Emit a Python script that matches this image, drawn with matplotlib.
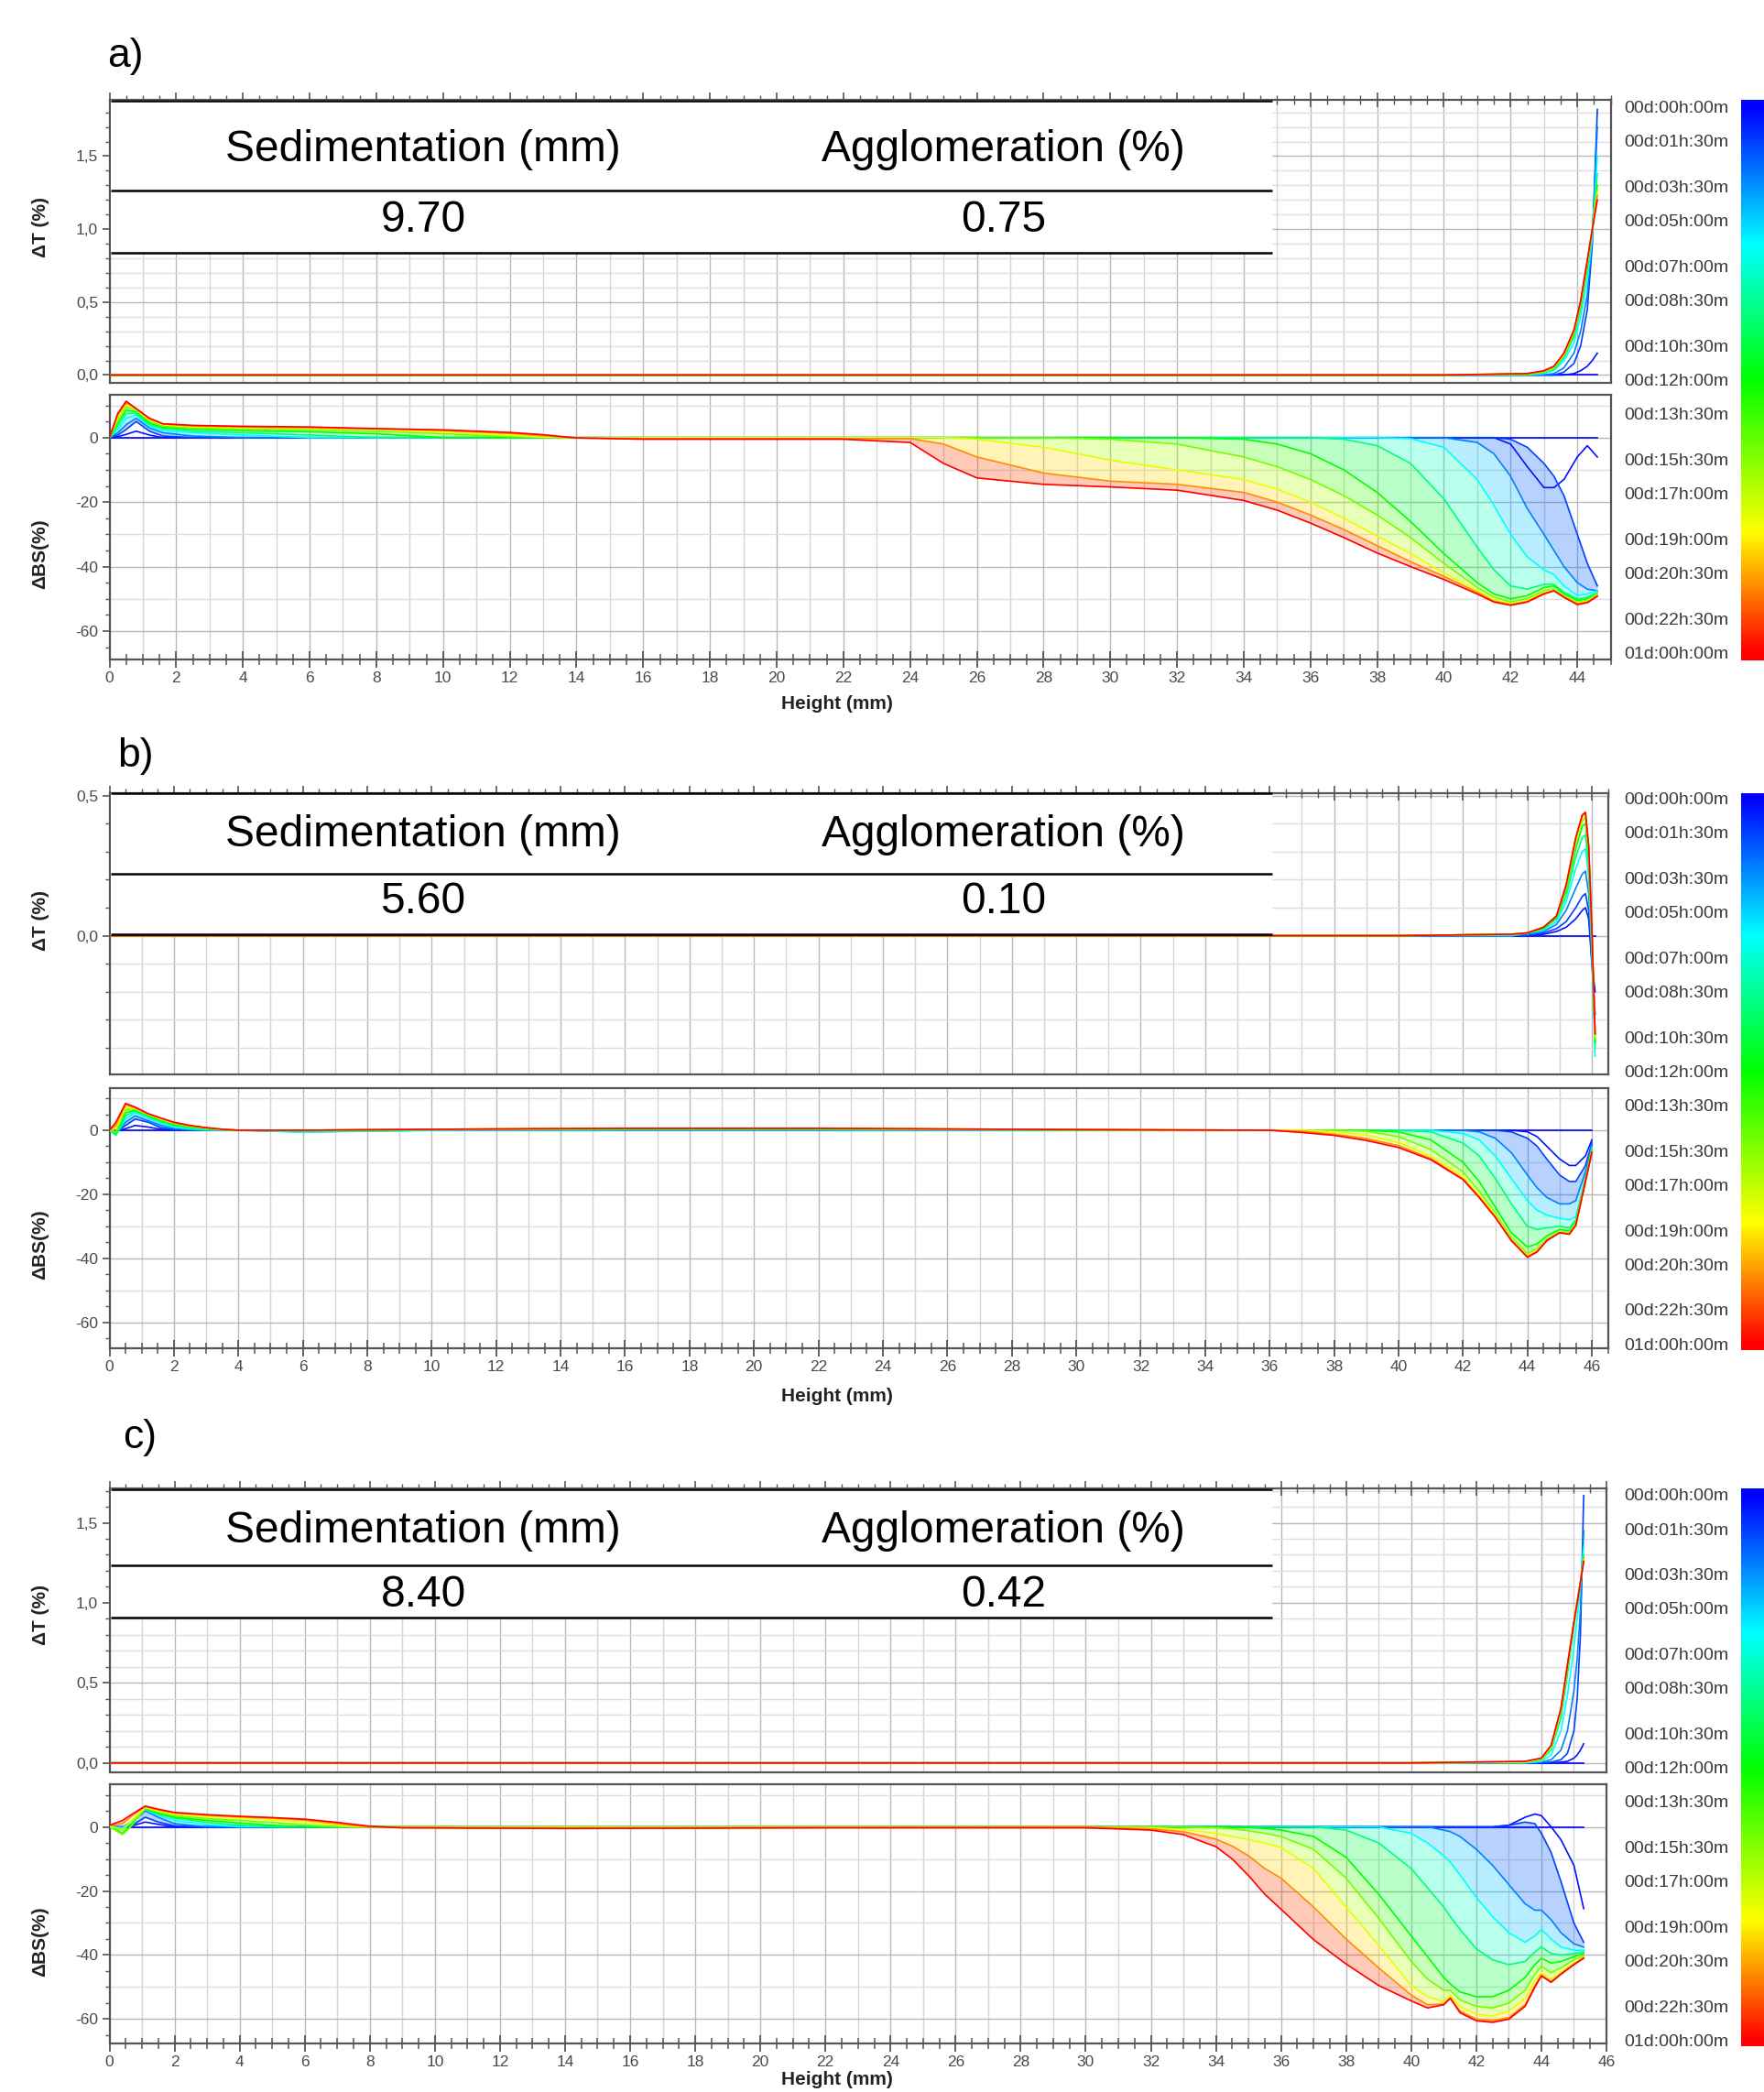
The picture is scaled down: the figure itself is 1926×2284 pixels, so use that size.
import numpy as np
import matplotlib.pyplot as plt
from matplotlib.colors import LinearSegmentedColormap
from matplotlib.ticker import MultipleLocator, FuncFormatter

plt.rcParams['font.family'] = ['Liberation Sans', 'DejaVu Sans']

# scan times drawn (hours)
times = [0, 0.5, 1.5, 3, 6, 9, 12, 15, 18, 21, 24]

legend_hours = [0, 1.5, 3.5, 5, 7, 8.5, 10.5, 12, 13.5, 15.5, 17, 19, 20.5, 22.5, 24]
legend_text = ['00d:00h:00m', '00d:01h:30m', '00d:03h:30m', '00d:05h:00m', '00d:07h:00m',
               '00d:08h:30m', '00d:10h:30m', '00d:12h:00m', '00d:13h:30m', '00d:15h:30m',
               '00d:17h:00m', '00d:19h:00m', '00d:20h:30m', '00d:22h:30m', '01d:00h:00m']

panel_names = ['a)', 'b)', 'c)']
sedimentation = ['9.70', '5.60', '8.40']
agglomeration = ['0.75', '0.10', '0.42']

# ---------------- sample a ----------------
h_a_left = [0, 0.25, 0.5, 0.8, 1.2, 1.6, 2.5, 4, 6, 8, 10, 12, 13, 14, 16, 22]
bs_a_left = [
    [0, 0, 0, 0, 0, 0, 0, 0, 0, 0, 0, 0, 0, 0, 0, 0],
    [0, 0.3, 1, 2, 0.8, 0, 0, 0, 0, 0, 0, 0, 0, 0, 0, 0],
    [0, 0.8, 2.5, 5, 2, 0.5, 0, 0, 0, 0, 0, 0, 0, 0, 0, 0],
    [0, 1.5, 4, 6, 3, 1.5, 0.5, 0, 0, 0, 0, 0, 0, 0, 0, 0],
    [0, 2.5, 6, 7, 3.5, 2.2, 1.5, 0.8, 0, 0, 0, 0, 0, 0, 0, 0],
    [0, 3.5, 7.5, 7.5, 4, 2.8, 2, 1.5, 0.8, 0, 0, 0, 0, 0, 0, 0],
    [0, 4.5, 8.5, 8, 4.5, 3.2, 2.6, 2.2, 1.8, 1.2, 0, 0, 0, 0, 0, 0],
    [0, 5.5, 9.5, 8.5, 5, 3.6, 3, 2.6, 2.4, 2, 1.2, 0.3, 0, 0, 0, 0],
    [0, 6.3, 10.3, 8.8, 5.5, 4, 3.4, 3.1, 2.9, 2.5, 1.8, 0.8, 0.2, 0, 0, 0],
    [0, 7, 10.8, 9, 5.8, 4.2, 3.6, 3.3, 3.1, 2.7, 2.2, 1.3, 0.6, -0.1, -0.3, -0.3],
    [0, 7.5, 11.3, 9, 6, 4.3, 3.8, 3.5, 3.3, 2.8, 2.4, 1.6, 0.9, -0.1, -0.5, -0.5],
]
h_a_right = [24, 25, 26, 28, 30, 32, 34, 35, 36, 37, 38, 39, 40, 41, 41.5, 42, 42.5, 43, 43.3, 43.6, 44, 44.3, 44.6]
bs_a_right = [
    [0, 0, 0, 0, 0, 0, 0, 0, 0, 0, 0, 0, 0, 0, 0, 0, 0, 0, 0, 0, 0, 0, 0],
    [0, 0, 0, 0, 0, 0, 0, 0, 0, 0, 0, 0, 0, 0, 0, -2, -9, -15.5, -15.5, -13, -6, -2.5, -6],
    [0, 0, 0, 0, 0, 0, 0, 0, 0, 0, 0, 0, 0, 0, 0, -0.5, -3, -8, -12, -18, -30, -39, -46],
    [0, 0, 0, 0, 0, 0, 0, 0, 0, 0, 0, 0, 0, -1.5, -5, -12, -22, -30, -35, -40, -45, -47, -47.5],
    [0, 0, 0, 0, 0, 0, 0, 0, 0, 0, 0, -0.3, -3, -13, -21, -30, -37, -41, -42.5, -46, -49, -48.5, -47.5],
    [0, 0, 0, 0, 0, 0, 0, 0, 0, -0.5, -2.5, -8, -19, -34, -41, -46, -47, -45.5, -45.5, -48, -50, -49.5, -48],
    [0, 0, 0, 0, 0, 0, -0.5, -2, -5, -10, -17, -26, -36, -45, -48.5, -50, -49, -46.5, -46, -48.5, -50.5, -50, -48.5],
    [0, 0, 0, 0, -0.5, -2, -6, -9, -13, -18, -24, -31, -39, -46.5, -49.5, -51, -50, -47.5, -47, -49, -51, -50.5, -48.5],
    [0, 0, -0.5, -3, -7, -10, -13, -16, -20, -25, -30.5, -36, -42, -47.5, -50.3, -51.5, -50.5, -48, -47.3, -49.3, -51.3, -50.8, -48.8],
    [-0.3, -2, -6, -11, -13.5, -14.5, -17, -20, -24, -28.5, -33.5, -38.5, -43, -48, -50.7, -51.8, -50.8, -48.3, -47.5, -49.5, -51.5, -51, -49],
    [-1.5, -8, -12.5, -14.5, -15.3, -16.3, -19.5, -22.5, -26.5, -31, -35.8, -40, -44, -48.5, -51, -52, -51, -48.5, -47.5, -49.5, -51.8, -51.2, -49.2],
]
h_a_t = [0, 20, 40, 42.5, 43, 43.3, 43.6, 43.9, 44.1, 44.3, 44.45, 44.6]
dt_a = [
    [0, 0, 0, 0, 0, 0, 0, 0, 0, 0, 0, 0],
    [0, 0, 0, 0, 0, 0, 0, 0.01, 0.03, 0.06, 0.1, 0.15],
    [0, 0, 0, 0, 0, 0, 0.02, 0.08, 0.2, 0.45, 0.9, 1.82],
    [0, 0, 0, 0, 0, 0.01, 0.05, 0.15, 0.3, 0.55, 0.95, 1.7],
    [0, 0, 0, 0, 0.01, 0.03, 0.1, 0.22, 0.4, 0.65, 0.95, 1.5],
    [0, 0, 0, 0, 0.02, 0.04, 0.12, 0.26, 0.45, 0.72, 1.0, 1.38],
    [0, 0, 0, 0.005, 0.02, 0.05, 0.13, 0.28, 0.48, 0.75, 1.0, 1.3],
    [0, 0, 0, 0.005, 0.02, 0.05, 0.14, 0.29, 0.49, 0.77, 1.0, 1.27],
    [0, 0, 0, 0.01, 0.025, 0.055, 0.14, 0.3, 0.5, 0.78, 1.0, 1.25],
    [0, 0, 0, 0.01, 0.025, 0.06, 0.15, 0.3, 0.5, 0.78, 1.0, 1.23],
    [0, 0, 0, 0.01, 0.03, 0.06, 0.15, 0.31, 0.51, 0.79, 1.0, 1.2],
]

# ---------------- sample b ----------------
h_b_left = [0, 0.2, 0.5, 0.8, 1.2, 1.6, 2, 2.5, 3, 3.5, 4, 6, 10, 16, 22, 30]
bs_b_left = [
    [0, 0, 0, 0, 0, 0, 0, 0, 0, 0, 0, 0, 0, 0, 0, 0],
    [0, -0.3, 0.5, 1.5, 1, 0.3, 0, 0, 0, 0, 0, 0, 0, 0, 0, 0],
    [0, -0.5, 1.5, 3.5, 2.5, 0.8, 0.2, 0, 0, 0, 0, 0, 0, 0, 0, 0],
    [0, -1, 2.5, 4.5, 3, 1.5, 0.5, 0.1, 0, 0, 0, -0.5, 0, 0, 0, 0],
    [0, -1.5, 3.5, 5.5, 3.8, 2, 1, 0.4, 0.1, 0, 0, -0.6, 0, 0.1, 0.1, 0],
    [0, -1.5, 4.5, 6, 4.3, 2.6, 1.5, 0.8, 0.3, 0.1, 0, -0.3, 0.2, 0.3, 0.3, 0.1],
    [0, -1, 5.5, 6.3, 4.6, 3, 1.8, 1, 0.5, 0.2, 0, 0, 0.2, 0.4, 0.4, 0.1],
    [0, -0.5, 6.5, 6.6, 4.9, 3.3, 2.1, 1.2, 0.6, 0.2, 0, 0, 0.3, 0.5, 0.5, 0.1],
    [0, 0.5, 7.3, 6.8, 5, 3.5, 2.3, 1.3, 0.7, 0.3, 0, 0, 0.3, 0.5, 0.5, 0.2],
    [0, 1.5, 8, 7, 5.1, 3.7, 2.4, 1.4, 0.8, 0.3, 0, 0, 0.3, 0.6, 0.6, 0.2],
    [0, 2.5, 8.4, 7.2, 5.2, 3.8, 2.5, 1.5, 0.8, 0.3, 0, 0, 0.3, 0.6, 0.6, 0.2],
]
h_b_right = [36, 37, 38, 39, 40, 41, 42, 42.5, 43, 43.5, 44, 44.3, 44.6, 45, 45.3, 45.5, 45.8, 46.0]
bs_b_right = [
    [0, 0, 0, 0, 0, 0, 0, 0, 0, 0, 0, 0, 0, 0, 0, 0, 0, 0],
    [0, 0, 0, 0, 0, 0, 0, 0, 0, 0, -0.5, -2, -5, -9, -11, -11, -8, -3],
    [0, 0, 0, 0, 0, 0, 0, 0, 0, -0.5, -2.5, -5, -9, -14, -16, -16, -11, -4],
    [0, 0, 0, 0, 0, 0, 0, -0.5, -2.5, -7, -14, -18, -21, -23, -23, -22, -13, -4.5],
    [0, 0, 0, 0, 0, 0, -1, -3, -8, -15, -22, -25, -26.5, -27.5, -28, -27, -15, -5.5],
    [0, 0, 0, 0, 0, -0.5, -4, -8, -15, -23, -30, -31, -30.5, -30, -30.5, -28, -15, -6],
    [0, 0, 0, 0, -0.5, -3, -10, -16, -24, -32, -36.5, -35.5, -33, -31, -31.5, -28.5, -15.5, -6.3],
    [0, 0, 0, -0.3, -2, -6, -13, -19, -26, -33.5, -38.5, -37, -34, -31.5, -32, -29, -15.8, -6.5],
    [0, 0, -0.5, -1.5, -3.8, -8, -14.5, -20.3, -26.5, -34, -39.3, -37.5, -34.3, -31.8, -32.3, -29.5, -16, -6.7],
    [0, -0.3, -1.2, -2.6, -4.8, -8.8, -15.2, -20.8, -27, -34.3, -39.5, -37.8, -34.4, -32, -32.4, -29.6, -16, -6.8],
    [0, -0.7, -1.6, -3.2, -5.4, -9.2, -15.4, -21, -27.2, -34.5, -39.7, -38, -34.5, -32, -32.5, -29.7, -16, -6.8],
]
h_b_t = [0, 20, 40, 43.5, 44, 44.5, 44.9, 45.2, 45.5, 45.7, 45.8, 45.9, 46.0, 46.1]
dt_b = [
    [0, 0, 0, 0, 0, 0, 0, 0, 0, 0, 0, 0, 0, 0],
    [0, 0, 0, 0, 0, 0.005, 0.015, 0.03, 0.06, 0.09, 0.1, 0.06, -0.1, -0.2],
    [0, 0, 0, 0, 0, 0.01, 0.025, 0.05, 0.1, 0.14, 0.15, 0.09, -0.1, -0.28],
    [0, 0, 0, 0, 0.005, 0.015, 0.04, 0.09, 0.17, 0.22, 0.23, 0.15, -0.08, -0.38],
    [0, 0, 0, 0, 0.01, 0.02, 0.05, 0.12, 0.24, 0.3, 0.31, 0.21, -0.05, -0.43],
    [0, 0, 0, 0.005, 0.01, 0.025, 0.06, 0.14, 0.28, 0.35, 0.36, 0.25, -0.03, -0.4],
    [0, 0, 0, 0.005, 0.01, 0.025, 0.065, 0.16, 0.31, 0.39, 0.4, 0.28, 0, -0.38],
    [0, 0, 0, 0.005, 0.01, 0.03, 0.07, 0.17, 0.33, 0.41, 0.42, 0.3, 0.01, -0.37],
    [0, 0, 0, 0.005, 0.01, 0.03, 0.07, 0.18, 0.34, 0.42, 0.43, 0.31, 0.02, -0.36],
    [0, 0, 0, 0.005, 0.01, 0.03, 0.07, 0.18, 0.35, 0.43, 0.44, 0.32, 0.02, -0.35],
    [0, 0, 0, 0.005, 0.01, 0.03, 0.07, 0.18, 0.35, 0.43, 0.44, 0.32, 0.02, -0.35],
]

# ---------------- sample c ----------------
h_c_left = [0, 0.4, 0.7, 1.1, 1.5, 2, 3, 4, 5, 6, 7, 7.5, 8, 9, 14, 22]
bs_c_left = [
    [0, 0, 0, 0, 0, 0, 0, 0, 0, 0, 0, 0, 0, 0, 0, 0],
    [0, 0, 0.3, 1.5, 0.8, 0, 0, 0, 0, 0, 0, 0, 0, 0, 0, 0],
    [0, 0, 0.5, 3, 1.5, 0.3, 0, 0, 0, 0, 0, 0, 0, 0, 0, 0],
    [0, 0, 1.5, 5, 3, 1, 0, 0, 0, 0, 0, 0, 0, 0, 0, 0],
    [0, -0.3, 2, 5.5, 3.6, 2, 0.7, 0, 0, 0, 0, 0, 0, 0, 0, 0],
    [0, -1, 1.5, 5.5, 4, 2.7, 1.4, 0.5, 0, 0, 0, 0, 0, 0, 0, 0],
    [0, -2, 0.8, 5.8, 4.2, 3, 2, 1.2, 0.5, 0, 0, 0, 0, 0, 0, 0],
    [0, -2.4, 0.5, 6, 4.6, 3.5, 2.6, 2, 1.4, 0.6, 0, 0, 0, 0, 0, 0],
    [0.3, -1, 2, 6, 5, 4, 3.2, 2.7, 2.2, 1.5, 0.5, 0, 0, 0, 0, 0],
    [0.5, 1, 3.5, 6.3, 5.3, 4.3, 3.6, 3.1, 2.7, 2.1, 1, 0.4, 0, -0.2, -0.3, -0.2],
    [0.5, 2, 4, 6.5, 5.5, 4.5, 3.8, 3.3, 2.9, 2.4, 1.4, 0.8, 0.2, -0.3, -0.5, -0.3],
]
h_c_right = [30, 32, 33, 34, 34.5, 35, 35.5, 36, 37, 38, 39, 40, 40.5, 41, 41.2, 41.5, 42, 42.5,
             43, 43.5, 43.8, 44, 44.3, 44.6, 45, 45.3]
bs_c_right = [
    [0, 0, 0, 0, 0, 0, 0, 0, 0, 0, 0, 0, 0, 0, 0, 0, 0, 0, 0, 0, 0, 0, 0, 0, 0, 0],
    [0, 0, 0, 0, 0, 0, 0, 0, 0, 0, 0, 0, 0, 0, 0, 0, 0, 0, 0.5, 3, 4, 3.5, 0, -4, -12, -25.5],
    [0, 0, 0, 0, 0, 0, 0, 0, 0, 0, 0, 0, 0, 0, 0, 0, 0, 0, 0.5, 1.5, 1, -2, -8, -17, -30, -36],
    [0, 0, 0, 0, 0, 0, 0, 0, 0, 0, 0, 0, 0, -1, -1.5, -3, -7, -12, -18, -24, -26, -26, -29, -33, -36.5, -37.5],
    [0, 0, 0, 0, 0, 0, 0, 0, 0, 0, 0, -2, -5, -9, -11, -15, -22, -28, -33, -36, -34, -32, -35, -37.5, -38.5, -38.5],
    [0, 0, 0, 0, 0, 0, 0, 0, 0, -1, -5, -13, -19, -25, -28, -32, -38, -41.5, -43, -42, -39, -37.5, -39.5, -40, -39.5, -39],
    [0, 0, 0, 0, 0, -0.2, -0.5, -1, -3, -9.5, -21, -34, -40.5, -47, -49, -51.5, -53, -53, -51, -47, -43, -41, -42.5, -42, -40.5, -39.5],
    [0, 0, 0, -0.3, -0.6, -1.2, -2, -3, -7, -16, -28.5, -42, -47.5, -51, -51, -54, -56, -56.5, -55, -51, -46, -43.5, -45.5, -44, -41.5, -40.2],
    [0, -0.3, -0.8, -2, -3, -4, -5, -6.5, -13, -25, -37, -49.5, -53, -54.5, -52.5, -56, -58.5, -59, -57.5, -53.5, -48, -45.5, -47.5, -45.3, -42.5, -40.7],
    [0, -0.6, -1.5, -3.8, -6, -9, -13, -16, -25, -35, -44, -52.5, -55.5, -55.3, -53.3, -57.5, -60, -60.5, -59.5, -55.5, -49.5, -46.2, -48.3, -45.8, -42.8, -40.8],
    [-0.3, -1, -2.4, -6.2, -10, -15.2, -21, -25.7, -35.2, -42.8, -49.5, -54.3, -56.5, -55.5, -53.5, -58, -60.5, -61, -60, -56, -50, -46.5, -48.5, -46, -43, -41],
]
h_c_t = [0, 20, 40, 43.5, 44, 44.3, 44.6, 44.8, 45.0, 45.1, 45.2, 45.3]
dt_c = [
    [0, 0, 0, 0, 0, 0, 0, 0, 0, 0, 0, 0],
    [0, 0, 0, 0, 0, 0, 0.005, 0.01, 0.03, 0.05, 0.08, 0.12],
    [0, 0, 0, 0, 0, 0.005, 0.02, 0.06, 0.2, 0.4, 0.8, 1.67],
    [0, 0, 0, 0, 0.005, 0.02, 0.08, 0.2, 0.45, 0.65, 0.95, 1.45],
    [0, 0, 0, 0, 0.01, 0.05, 0.2, 0.42, 0.72, 0.9, 1.1, 1.35],
    [0, 0, 0, 0.005, 0.02, 0.08, 0.28, 0.55, 0.85, 1.0, 1.13, 1.3],
    [0, 0, 0, 0.005, 0.02, 0.1, 0.32, 0.58, 0.87, 1.0, 1.13, 1.28],
    [0, 0, 0, 0.005, 0.025, 0.1, 0.33, 0.6, 0.88, 1.0, 1.13, 1.27],
    [0, 0, 0, 0.005, 0.025, 0.1, 0.33, 0.6, 0.88, 1.0, 1.13, 1.27],
    [0, 0, 0, 0.01, 0.03, 0.11, 0.34, 0.61, 0.88, 1.0, 1.13, 1.26],
    [0, 0, 0, 0.01, 0.03, 0.11, 0.34, 0.61, 0.88, 1.0, 1.13, 1.26],
]

samples = [
    (h_a_left + h_a_right, [l + r for l, r in zip(bs_a_left, bs_a_right)], h_a_t, dt_a),
    (h_b_left + h_b_right, [l + r for l, r in zip(bs_b_left, bs_b_right)], h_b_t, dt_b),
    (h_c_left + h_c_right, [l + r for l, r in zip(bs_c_left, bs_c_right)], h_c_t, dt_c),
]

rainbow = LinearSegmentedColormap.from_list(
    'turbiscan', [(0, '#0000ff'), (0.25, '#00ffff'), (0.5, '#00ff00'), (0.78, '#ffff00'), (1, '#ff0000')])

# figure layout in pixels of the 1926 x 2284 picture
W, H = 1926, 2284
layout = [
    dict(x_max=45.0, t_box=(119.5, 109.3, 1758.6, 418.2), bs_box=(119.5, 431.3, 1758.6, 719.6),
         t_lim=(-0.055, 1.884), bs_lim=(-68.7, 13.2), table=(109.3, 208.4, 276.8, 163, 240),
         letter=(117, 61), xlab_y=769, tlab_y=248, bslab_y=605, cbar=(109, 721), lab=(116.6, 712.5)),
    dict(x_max=46.5, t_box=(119.5, 865.5, 1755.7, 1173), bs_box=(119.5, 1187.5, 1755.7, 1471.6),
         t_lim=(-0.495, 0.51), bs_lim=(-68.0, 13.3), table=(865.5, 954.3, 1021.4, 912, 985),
         letter=(128, 825), xlab_y=1524, tlab_y=1005, bslab_y=1359, cbar=(865.5, 1474.5), lab=(871.3, 1467.2)),
    dict(x_max=46.0, t_box=(119.5, 1624.6, 1754, 1934.9), bs_box=(119.5, 1948, 1754, 2230.7),
         t_lim=(-0.058, 1.717), bs_lim=(-67.5, 13.3), table=(1624.6, 1709, 1767.3, 1671, 1741),
         letter=(134, 1569), xlab_y=2270, tlab_y=1763, bslab_y=2120, cbar=(1624.6, 2233.6), lab=(1631.8, 2227.7)),
]

TICK_C = '#4a4a4a'
SPINE_C = '#555555'


def frame(l, t, r, b):
    return [l / W, 1 - b / H, (r - l) / W, (b - t) / H]


def add_grid(ax, x_max, y_lim, step, dark_step):
    for x in np.arange(1, x_max, 1):
        ax.axvline(x, color='#b8b8b8' if int(x) % 2 == 0 else '#d4d4d4', lw=1.0, zorder=0.5)
    for y in np.arange(np.ceil(y_lim[0] / step) * step, y_lim[1], step):
        q = y / dark_step
        ax.axhline(y, color='#b8b8b8' if abs(q - round(q)) < 1e-6 else '#dedede', lw=1.0, zorder=0.5)


def style(ax):
    for s in ax.spines.values():
        s.set_color(SPINE_C)
        s.set_linewidth(1.6)
    ax.tick_params(axis='y', which='major', direction='out', length=6, width=1.2,
                   color=SPINE_C, labelsize=12.5, labelcolor=TICK_C, pad=3)
    ax.tick_params(axis='y', which='minor', direction='out', length=3.5, width=1.0, color=SPINE_C)
    ax.tick_params(axis='y', right=False)


def draw_profiles(ax, heights, rows, fill):
    if fill:
        for i in range(3, len(times)):
            mid = (times[i - 1] + times[i]) / 2 / 24
            ax.fill_between(heights, rows[i - 1], rows[i], color=rainbow(mid), alpha=0.28, lw=0, zorder=2)
    for i, (t, row) in enumerate(zip(times, rows)):
        ax.plot(heights, row, color=rainbow(t / 24), lw=1.2, zorder=3 + i * 0.01)


fig = plt.figure(figsize=(W / 100, H / 100), dpi=100)

for k, L in enumerate(layout):
    h_bs, bs_rows, h_t, dt_rows = samples[k]
    x_max = L['x_max']

    # transmission
    ax_t = fig.add_axes(frame(*L['t_box']))
    ax_t.set_xlim(0, x_max)
    ax_t.set_ylim(*L['t_lim'])
    add_grid(ax_t, x_max, L['t_lim'], 0.1, 0.5)
    draw_profiles(ax_t, h_t, dt_rows, fill=False)
    ax_t.xaxis.set_major_locator(MultipleLocator(2))
    ax_t.xaxis.set_minor_locator(MultipleLocator(0.5))
    ax_t.yaxis.set_major_locator(MultipleLocator(0.5))
    ax_t.yaxis.set_minor_locator(MultipleLocator(0.1))
    ax_t.yaxis.set_major_formatter(FuncFormatter(lambda v, p: f'{round(v, 1) + 0.0:.1f}'.replace('.', ',')))
    style(ax_t)
    ax_t.tick_params(axis='x', which='both', direction='inout', top=True, bottom=False,
                     labeltop=False, labelbottom=False, color=SPINE_C)
    ax_t.tick_params(axis='x', which='major', length=11, width=1.2)
    ax_t.tick_params(axis='x', which='minor', length=7, width=1.0)

    # backscattering
    ax_b = fig.add_axes(frame(*L['bs_box']))
    ax_b.set_xlim(0, x_max)
    ax_b.set_ylim(*L['bs_lim'])
    add_grid(ax_b, x_max, L['bs_lim'], 10, 20)
    draw_profiles(ax_b, h_bs, bs_rows, fill=True)
    ax_b.xaxis.set_major_locator(MultipleLocator(2))
    ax_b.xaxis.set_minor_locator(MultipleLocator(0.5))
    ax_b.yaxis.set_major_locator(MultipleLocator(20))
    ax_b.yaxis.set_minor_locator(MultipleLocator(5))
    ax_b.xaxis.set_major_formatter(FuncFormatter(lambda v, p: f'{v:.0f}'))
    ax_b.yaxis.set_major_formatter(FuncFormatter(lambda v, p: f'{round(v) + 0:.0f}'))
    style(ax_b)
    ax_b.tick_params(axis='x', which='both', direction='inout', top=False, bottom=True, color=SPINE_C)
    ax_b.tick_params(axis='x', which='major', length=13, width=1.3, labelsize=12.5,
                     labelcolor=TICK_C, pad=3)
    ax_b.tick_params(axis='x', which='minor', length=8, width=1.1)

    # table overlay
    top, mid, bot, head_y, val_y = L['table']
    tab = fig.add_axes(frame(121, top, 1388.6, bot))
    tab.set_xlim(121, 1388.6)
    tab.set_ylim(bot, top)
    tab.set_facecolor('white')
    tab.set_xticks([])
    tab.set_yticks([])
    for s in tab.spines.values():
        s.set_visible(False)
    tab.hlines([top + 1, mid, bot - 1], 121, 1388.6, color='black', lw=1.8, clip_on=False)
    tab.text(462, head_y, 'Sedimentation (mm)', ha='center', va='center', fontsize=34.5)
    tab.text(1095.7, head_y, 'Agglomeration (%)', ha='center', va='center', fontsize=34.5)
    tab.text(462, val_y, sedimentation[k], ha='center', va='center', fontsize=34.5)
    tab.text(1095.7, val_y, agglomeration[k], ha='center', va='center', fontsize=34.5)

    # colour scale with time labels
    c_top, c_bot = L['cbar']
    y0, y1 = L['lab']
    span = (y1 - y0) / 24
    v_top = -(y0 - c_top) / span
    v_bot = 24 + (c_bot - y1) / span
    cax = fig.add_axes(frame(1901, c_top, 1940, c_bot))
    grad = np.linspace(v_top, v_bot, 500)[:, None]
    cax.imshow(grad, aspect='auto', cmap=rainbow, vmin=0, vmax=24, extent=(0, 1, v_bot, v_top))
    cax.set_ylim(v_bot, v_top)
    cax.set_xticks([])
    cax.set_yticks(legend_hours)
    cax.set_yticklabels(legend_text)
    cax.tick_params(axis='y', left=True, right=False, length=0, pad=10, labelsize=14, labelcolor='#3a3a3a')
    for s in cax.spines.values():
        s.set_visible(False)

    # labels
    lx, ly = L['letter']
    fig.text(lx / W, 1 - ly / H, panel_names[k], fontsize=32, ha='left', va='center')
    fig.text(44 / W, 1 - L['tlab_y'] / H, 'ΔT (%)', rotation=90, ha='center', va='center',
             fontsize=15, fontweight='bold', color='#222222')
    fig.text(44 / W, 1 - L['bslab_y'] / H, 'ΔBS(%)', rotation=90, ha='center', va='center',
             fontsize=15, fontweight='bold', color='#222222')
    fig.text(913.5 / W, 1 - L['xlab_y'] / H, 'Height (mm)', ha='center', va='center',
             fontsize=15, fontweight='bold', color='#222222')

fig.savefig('out.png', dpi=100)
